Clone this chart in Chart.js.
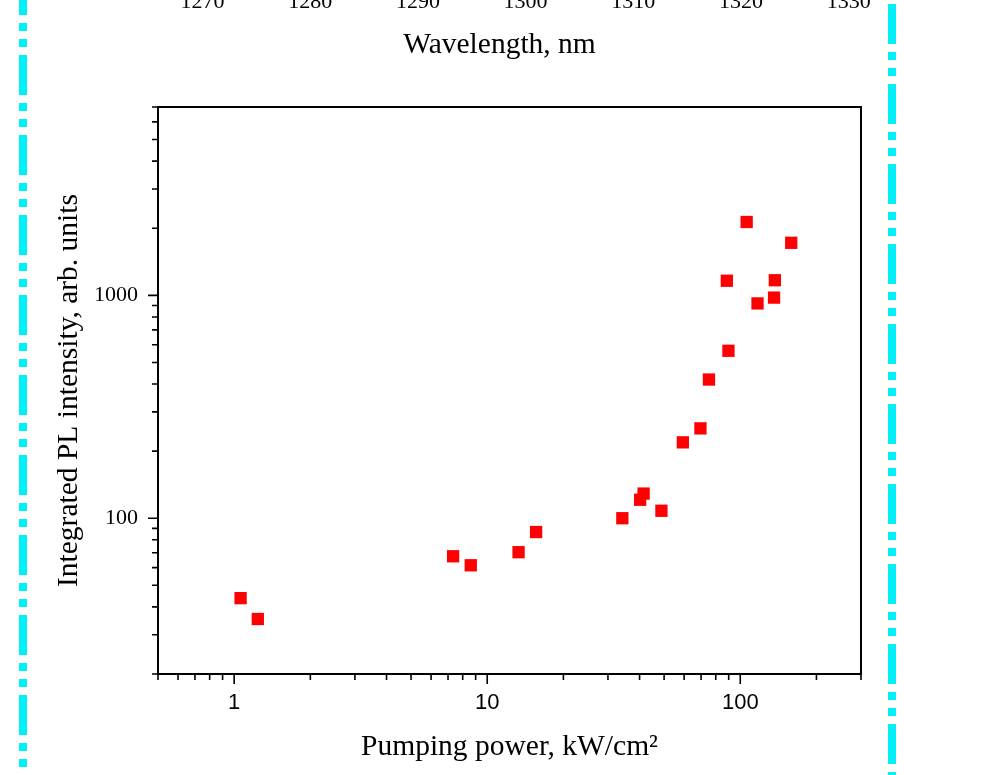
<!DOCTYPE html>
<html>
<head>
<meta charset="utf-8">
<script src="https://cdn.jsdelivr.net/npm/chart.js@4.4.1/dist/chart.umd.min.js"></script>
<style>
  html, body { margin: 0; padding: 0; background: #fff; }
  #wrap { position: relative; width: 1001px; height: 775px; overflow: hidden; }
  #main { position: absolute; left: 0; top: 0; }
  #top { position: absolute; left: 0; top: -40px; }
</style>
</head>
<body>
<div id="wrap">
  <canvas id="main" width="1001" height="775" style="width:1001px;height:775px"></canvas>
  <canvas id="top" width="1001" height="100" style="width:1001px;height:100px"></canvas>
</div>
<script>
// pumping power (kW/cm2) and integrated PL intensity (arb. units)
const power = [1.06, 1.24, 7.33, 8.61, 13.3, 15.6, 34.2, 40.2, 41.5, 48.8,
               59.3, 69.6, 75.2, 88.5, 89.8, 106, 117, 136, 137, 159];
const intensity = [43.8, 35.3, 67.5, 61.5, 70.4, 86.7, 100, 121, 129, 108,
                   219, 253, 419, 1163, 564, 2134, 920, 977, 1169, 1721];

// axis ticks
const xMajor = [1, 10, 100];
const xTicks = [0.5, 0.6, 0.7, 0.8, 0.9, 1, 2, 3, 4, 5, 6, 7, 8, 9, 10,
                20, 30, 40, 50, 60, 70, 80, 90, 100, 200, 300];
const yMajor = [100, 1000];
const yTicks = [20, 30, 40, 50, 60, 70, 80, 90, 100, 200, 300, 400, 500, 600,
                700, 800, 900, 1000, 2000, 3000, 4000, 5000, 6000, 7000];
// wavelength axis of the panel above (cropped)
const wlTicks = [1270, 1280, 1290, 1300, 1310, 1320, 1330];

const serif = '"Liberation Serif", "Times New Roman", serif';
const sans = '"Liberation Sans", Arial, sans-serif';
Chart.defaults.color = '#000';

// cyan dash-dot-dot frame lines
const frameLines = {
  id: 'frameLines',
  beforeDraw(chart) {
    const ctx = chart.ctx;
    ctx.save();
    ctx.strokeStyle = '#00f0fa';
    ctx.lineWidth = 8;
    ctx.setLineDash([40, 8, 8, 8, 8, 8]);
    ctx.beginPath();
    ctx.moveTo(23, -25);
    ctx.lineTo(23, 767);
    ctx.moveTo(892, 4);
    ctx.lineTo(892, 780);
    ctx.stroke();
    ctx.restore();
  }
};

// box around plot + outward ticks
const boxTicks = {
  id: 'boxTicks',
  afterDraw(chart) {
    const ctx = chart.ctx;
    const a = chart.chartArea;
    const xs = chart.scales.x, ys = chart.scales.y;
    ctx.save();
    ctx.strokeStyle = '#000';
    ctx.lineWidth = 1.6;
    ctx.beginPath();
    xs.ticks.forEach(t => {
      const px = xs.getPixelForValue(t.value);
      const len = xMajor.includes(t.value) ? 10 : 6;
      ctx.moveTo(px, a.bottom);
      ctx.lineTo(px, a.bottom + len);
    });
    ys.ticks.forEach(t => {
      const py = ys.getPixelForValue(t.value);
      const len = yMajor.includes(t.value) ? 10 : 6;
      ctx.moveTo(a.left, py);
      ctx.lineTo(a.left - len, py);
    });
    ctx.stroke();
    ctx.lineWidth = 2;
    ctx.strokeRect(a.left, a.top, a.right - a.left, a.bottom - a.top);
    ctx.restore();
  }
};

new Chart(document.getElementById('main'), {
  type: 'scatter',
  data: {
    datasets: [{
      data: power.map((p, i) => ({ x: p, y: intensity[i] })),
      pointStyle: 'rect',
      pointRadius: 8.7,
      pointHoverRadius: 8.7,
      backgroundColor: '#ff0000',
      borderWidth: 0
    }]
  },
  options: {
    responsive: false,
    animation: false,
    events: [],
    layout: { padding: { top: 107, right: 140, left: 0, bottom: 0 } },
    plugins: { legend: { display: false }, tooltip: { enabled: false } },
    scales: {
      x: {
        type: 'logarithmic',
        min: 0.5,
        max: 300,
        grid: { display: false, drawTicks: false },
        border: { display: false },
        afterBuildTicks: s => { s.ticks = xTicks.map(v => ({ value: v })); },
        afterFit: s => { s.height = 101; },
        ticks: {
          autoSkip: false,
          maxRotation: 0,
          padding: 18,
          font: { family: sans, size: 22, lineHeight: 1 },
          callback: v => xMajor.includes(v) ? String(v) : ''
        },
        title: {
          display: true,
          text: 'Pumping power, kW/cm²',
          font: { family: serif, size: 29.5, lineHeight: 1 },
          padding: { top: 0, bottom: 13.2 }
        }
      },
      y: {
        type: 'logarithmic',
        min: 20,
        max: 7000,
        grid: { display: false, drawTicks: false },
        border: { display: false },
        afterBuildTicks: s => { s.ticks = yTicks.map(v => ({ value: v })); },
        afterFit: s => { s.width = 158; },
        ticks: {
          autoSkip: false,
          padding: 20,
          font: { family: serif, size: 22, lineHeight: 1 },
          callback: v => yMajor.includes(v) ? String(v) : ''
        },
        title: {
          display: true,
          text: 'Integrated PL intensity, arb. units',
          font: { family: serif, size: 29.5, lineHeight: 1 },
          padding: { top: 54.7, bottom: 0 }
        }
      }
    }
  },
  plugins: [frameLines, boxTicks]
});

// cropped bottom axis of the upper panel
new Chart(document.getElementById('top'), {
  type: 'scatter',
  data: { datasets: [] },
  options: {
    responsive: false,
    animation: false,
    events: [],
    layout: { padding: { top: 0, right: 150.65, left: 148.65, bottom: 0 } },
    plugins: { legend: { display: false }, tooltip: { enabled: false } },
    scales: {
      x: {
        type: 'linear',
        min: 1265,
        max: 1330.15,
        grid: { display: false, drawTicks: false },
        border: { display: false },
        afterBuildTicks: s => { s.ticks = wlTicks.map(v => ({ value: v })); },
        afterFit: s => { s.height = 68.4; },
        ticks: {
          autoSkip: false,
          maxRotation: 0,
          padding: 0,
          font: { family: serif, size: 22, lineHeight: 1 },
          callback: v => String(v)
        },
        title: {
          display: true,
          text: 'Wavelength, nm',
          font: { family: serif, size: 29.5, lineHeight: 1 },
          padding: { top: 0, bottom: 0.2 }
        }
      },
      y: { display: false, min: 0, max: 1 }
    }
  }
});
</script>
</body>
</html>
